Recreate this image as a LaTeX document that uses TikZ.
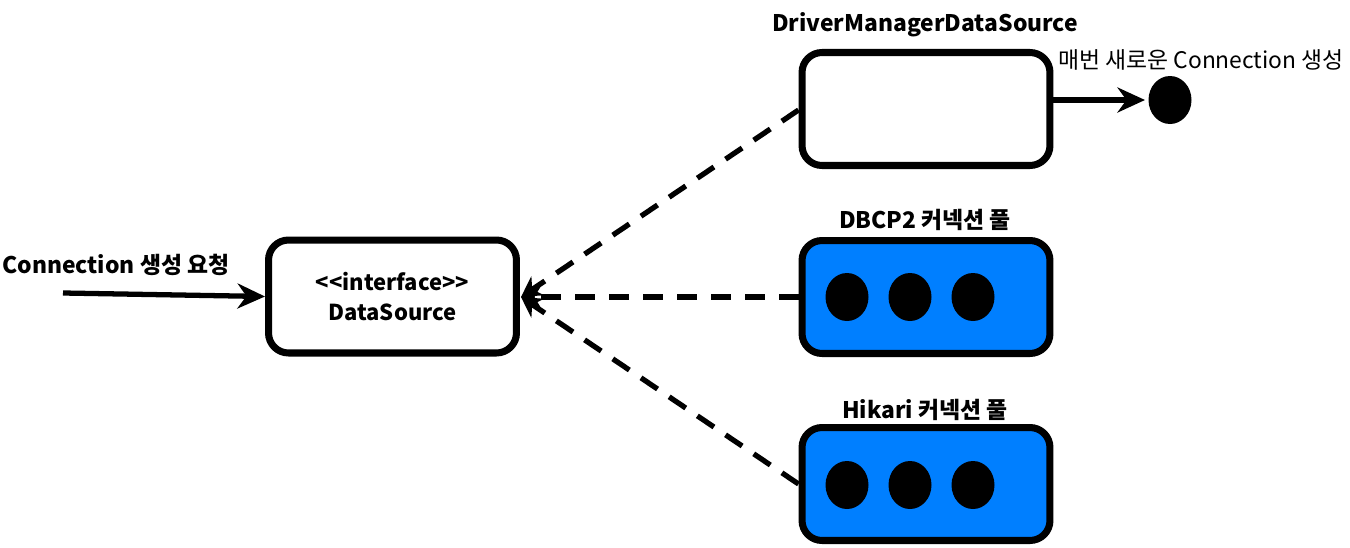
\documentclass[tikz,border=0pt]{standalone}
\usepackage{fontspec}
\setmainfont{Noto Sans CJK KR}
\usetikzlibrary{arrows.meta}
\definecolor{poolblue}{RGB}{0,127,255}
\begin{document}
\begin{tikzpicture}[x=0.02cm, y=-0.02cm,
    box/.style={draw=black, line width=4pt, rounded corners=0.4cm, fill=white,
        minimum width=4.96cm, minimum height=2.26cm, inner sep=0pt, align=center},
    pool/.style={box, fill=poolblue},
    label/.style={font=\bfseries\fontsize{13}{15}\selectfont, inner sep=0pt},
    dashline/.style={line width=3pt, dash pattern=on 0.4cm off 0.28cm}]
    \useasboundingbox (0,0) rectangle (1350,548);

    % boxes
    \node[box, font=\bfseries\fontsize{12.5}{17}\selectfont] (ds) at (392.5,296.5) {{<}{<}interface{>}{>}\\DataSource};
    \node[box] (dm) at (926,109) {};
    \node[pool] (dbcp) at (926,297) {};
    \node[pool] (hikari) at (926,484) {};

    % labels
    \node[label, anchor=west] (req) at (2,265) {Connection 생성 요청};
    \node[label] (dmlabel) at (925,25) {DriverManagerDataSource};
    \node[label] (dbcplabel) at (925,220) {DBCP2 커넥션 풀};
    \node[label] (hikarilabel) at (925,410) {Hikari 커넥션 풀};
    \node[font=\fontsize{13}{15}\selectfont, inner sep=0pt] (newlabel) at (1201,60) {매번 새로운 Connection 생성};

    % connections
    \fill[black] (847,297) ellipse [x radius=21.5, y radius=24];
    \fill[black] (910,297) ellipse [x radius=21.5, y radius=24];
    \fill[black] (973,297) ellipse [x radius=21.5, y radius=24];
    \fill[black] (847,485) ellipse [x radius=21.5, y radius=24];
    \fill[black] (910,485) ellipse [x radius=21.5, y radius=24];
    \fill[black] (973,485) ellipse [x radius=21.5, y radius=24];
    \fill[black] (1170,100) ellipse [x radius=21.5, y radius=24];
    \coordinate (single) at (1145,100);
    \coordinate (start) at (63,293);
    \coordinate (tip) at (521,297);

    % arrows
    \draw[line width=3pt, -{Stealth[length=0.55cm, width=0.5cm]}] (start) -- (ds.west);
    \draw[line width=3pt, -{Stealth[length=0.55cm, width=0.5cm]}] (dm.east |- single) -- (single);
    \draw[dashline, -{Stealth[length=0.4cm, width=0.45cm]}] (dm.west |- 0,110) -- (tip);
    \draw[dashline, -{Stealth[length=0.4cm, width=0.45cm]}] (dbcp.west) -- (tip);
    \draw[dashline, -{Stealth[length=0.4cm, width=0.45cm]}] (hikari.west) -- (tip);
    \end{tikzpicture}
\end{document}
